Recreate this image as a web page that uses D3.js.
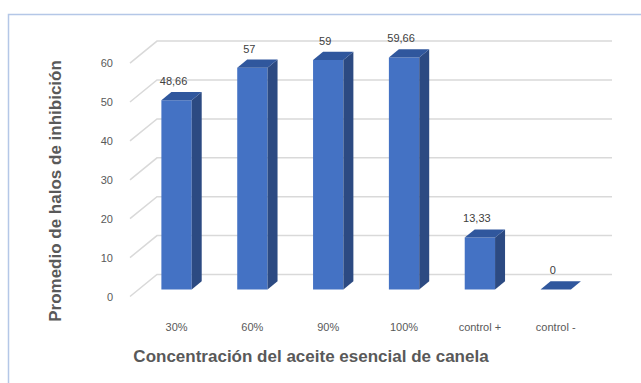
<!DOCTYPE html>
<html>
<head>
<meta charset="utf-8">
<script src="https://cdn.jsdelivr.net/npm/d3@7/dist/d3.min.js"></script>
<style>
  html, body { margin: 0; padding: 0; background: #fff; }
  svg { display: block; }
</style>
</head>
<body>
<svg id="chart" width="641" height="383"></svg>
<script>
// Concentrations tested and mean inhibition halos
const categories = ["30%", "60%", "90%", "100%", "control +", "control -"];
const values = [48.66, 57, 59, 59.66, 13.33, 0];
const valueLabels = ["48,66", "57", "59", "59,66", "13,33", "0"];
const yTicks = [0, 10, 20, 30, 40, 50, 60];

const svg = d3.select("#chart");
const font = "'Liberation Sans', Arial, sans-serif";

// Chart area outline
svg.append("rect")
  .attr("x", 8.5).attr("y", 14.5)
  .attr("width", 700).attr("height", 400)
  .attr("fill", "#fff")
  .attr("stroke", "#b4c7e7").attr("stroke-width", 1.5);

// 3D projection: back wall plane, depth vector towards the viewer
const wallLeft = 157, wallRight = 612, wallBase = 274.5;
const depthDx = -27, depthDy = 22;

const y = d3.scaleLinear().domain([0, 60]).range([0, 233.4]);
const x = d3.scaleBand().domain(categories)
  .range([wallLeft, wallRight]).paddingInner(0.6).paddingOuter(0.3);

// point in back-plane coords (px, value) at depth z (0 = back wall, 1 = front)
function proj(px, v, z) {
  return [px + depthDx * z, wallBase - y(v) + depthDy * z];
}

// Gridlines: back wall + left wall diagonal
const grid = svg.append("g").attr("stroke", "#d9d9d9").attr("stroke-width", 1.5).attr("fill", "none");
yTicks.forEach(t => {
  const a = proj(wallLeft, t, 0), b = proj(wallRight, t, 0), c = proj(wallLeft, t, 1);
  grid.append("path").attr("d", `M${c[0]},${c[1]}L${a[0]},${a[1]}L${b[0]},${b[1]}`);
});

// Y tick labels along the front edge
const yFront = d3.scaleLinear().domain([0, 60])
  .range([wallBase + depthDy, wallBase + depthDy - y(60)]);
const yAxis = svg.append("g")
  .attr("transform", `translate(${wallLeft + depthDx},0)`)
  .call(d3.axisLeft(yFront).tickValues(yTicks).tickSize(0).tickPadding(17));
yAxis.select(".domain").remove();
yAxis.selectAll("text")
  .attr("fill", "#595959")
  .style("font-family", font)
  .style("font-size", "11px");

// Bars
const zFront = 0.68, zBack = 0.31;
const bars = svg.append("g");
categories.forEach((cat, i) => {
  const v = values[i];
  const x0 = x(cat), x1 = x0 + x.bandwidth();
  const fbl = proj(x0, 0, zFront), fbr = proj(x1, 0, zFront);
  const ftl = proj(x0, v, zFront), ftr = proj(x1, v, zFront);
  const bbr = proj(x1, 0, zBack);
  const btl = proj(x0, v, zBack), btr = proj(x1, v, zBack);
  const poly = pts => "M" + pts.map(p => p.join(",")).join("L") + "Z";
  if (v > 0) {
    bars.append("path").attr("d", poly([fbl, fbr, ftr, ftl])).attr("fill", "#4472c4");
    bars.append("path").attr("d", poly([fbr, bbr, btr, ftr])).attr("fill", "#2c4a82");
  }
  bars.append("path").attr("d", poly([ftl, ftr, btr, btl])).attr("fill", "#30579d");

  // value label above the bar
  const fc = proj((x0 + x1) / 2, v, zFront);
  svg.append("text")
    .attr("x", fc[0] - 3).attr("y", btl[1] - 7)
    .attr("text-anchor", "middle")
    .attr("fill", "#404040")
    .style("font-family", font)
    .style("font-size", "11px")
    .text(valueLabels[i]);

  // category label
  const lc = proj((x0 + x1) / 2, 0, zFront);
  svg.append("text")
    .attr("x", lc[0]).attr("y", 331)
    .attr("text-anchor", "middle")
    .attr("fill", "#595959")
    .style("font-family", font)
    .style("font-size", "11px")
    .text(cat);
});

// Axis titles
svg.append("text")
  .attr("transform", "translate(61,191) rotate(-90)")
  .attr("text-anchor", "middle")
  .attr("fill", "#595959")
  .style("font-family", font)
  .style("font-size", "17px").style("font-weight", "bold")
  .text("Promedio de halos de inhibición");

svg.append("text")
  .attr("x", 311).attr("y", 362)
  .attr("text-anchor", "middle")
  .attr("fill", "#595959")
  .style("font-family", font)
  .style("font-size", "17px").style("font-weight", "bold")
  .text("Concentración del aceite esencial de canela");
</script>
</body>
</html>
